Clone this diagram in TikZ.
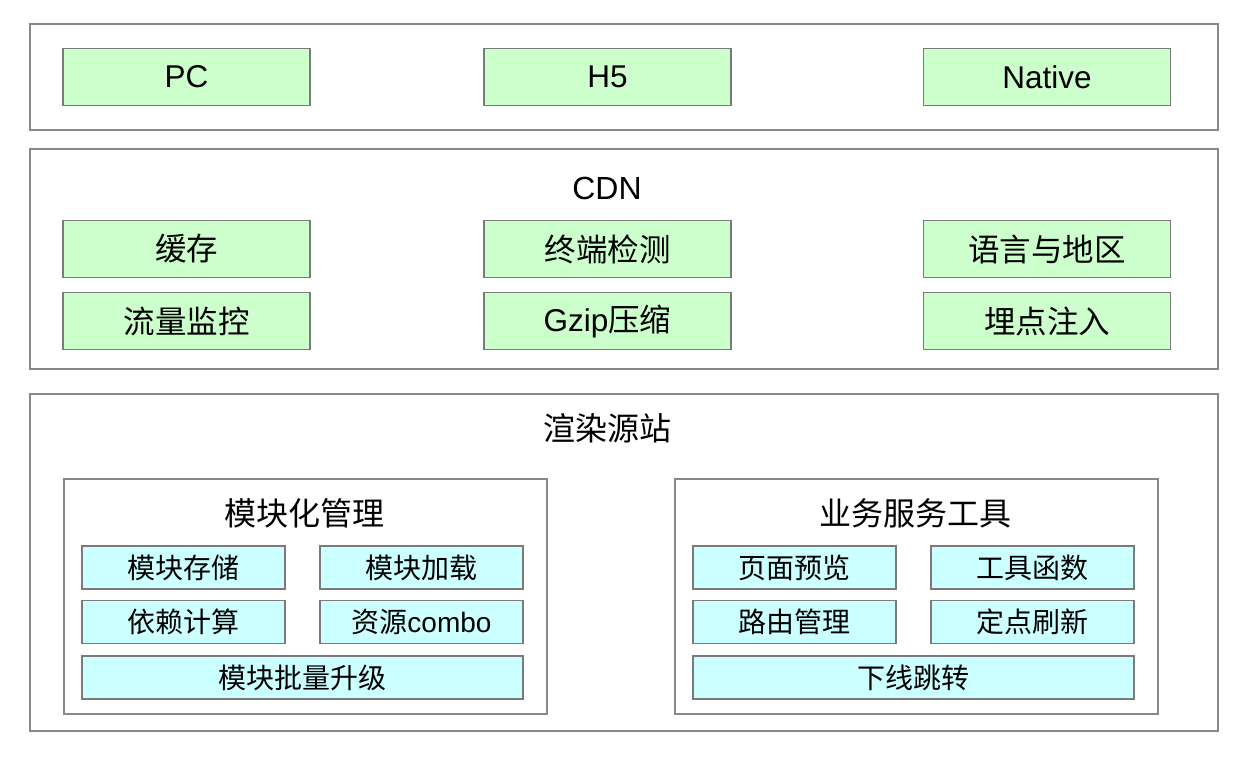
\documentclass[tikz,border=0pt]{standalone}
\usepackage{fontspec}
\setmainfont{Liberation Sans}
\newfontfamily\cjk{Noto Sans CJK SC}
\usepackage{xcolor}
\usetikzlibrary{positioning}

\definecolor{termgreen}{HTML}{CCFFCC}
\definecolor{cellcyan}{HTML}{CCFFFF}
\definecolor{edgegray}{HTML}{7A7A7A}
\definecolor{framegray}{HTML}{888888}

\begin{document}
\begin{tikzpicture}[x=1pt,y=-1pt,
		layer/.style={draw=framegray, line width=1.5pt, anchor=north west, inner sep=0pt},
		term/.style={draw=edgegray, fill=termgreen, line width=1.5pt, minimum width=247pt, minimum height=57pt, inner sep=0pt, font=\fontsize{31.5}{33}\selectfont},
		cell/.style={draw=edgegray, fill=cellcyan, line width=1.5pt, minimum width=203pt, minimum height=43pt, inner sep=0pt, font=\fontsize{28}{30}\selectfont},
		wide/.style={cell, minimum width=441pt},
		title/.style={font=\fontsize{32}{34}\selectfont}]
		\fill[white] (0,0) rectangle (1244,756);
		\useasboundingbox (0,0) rectangle (1244,756);
		% clients
		\node[layer, minimum width=1188pt, minimum height=106pt] (client) at (29,23) {};
		\node[term] (pc) at (186.5,77) {PC};
		\node[term] (h5) at (607.5,77) {H5};
		\node[term] (native) at (1047,77) {Native};
		% cdn
		\node[layer, minimum width=1188pt, minimum height=220pt] (cdn) at (29,148) {};
		\node[title] (cdnlabel) at (607,188) {CDN};
		\node[term] (cache) at (186.5,249) {\cjk 缓存};
		\node[term] (detect) at (607.5,249) {\cjk 终端检测};
		\node[term] (locale) at (1047,249) {\cjk 语言与地区};
		\node[term] (traffic) at (186.5,321) {\cjk 流量监控};
		\node[term] (gzip) at (607.5,321) {Gzip{\cjk 压缩}};
		\node[term] (track) at (1047,321) {\cjk 埋点注入};
		% origin
		\node[layer, minimum width=1188pt, minimum height=337pt] (origin) at (29,393) {};
		\node[title] (originlabel) at (607,428) {\cjk 渲染源站};
		\node[layer, minimum width=483pt, minimum height=235pt] (modules) at (63,478) {};
		\node[title] (moduleslabel) at (304.5,513) {\cjk 模块化管理};
		\node[cell] (store) at (183.5,567.5) {\cjk 模块存储};
		\node[cell] (load) at (421.5,567.5) {\cjk 模块加载};
		\node[cell] (deps) at (183.5,622) {\cjk 依赖计算};
		\node[cell] (combo) at (421.5,622) {{\cjk 资源}combo};
		\node[wide] (upgrade) at (302.5,677.5) {\cjk 模块批量升级};
		\node[layer, minimum width=483pt, minimum height=235pt] (tools) at (674,478) {};
		\node[title] (toolslabel) at (915.5,513) {\cjk 业务服务工具};
		\node[cell] (preview) at (794.5,567.5) {\cjk 页面预览};
		\node[cell] (funcs) at (1032.5,567.5) {\cjk 工具函数};
		\node[cell] (router) at (794.5,622) {\cjk 路由管理};
		\node[cell] (refresh) at (1032.5,622) {\cjk 定点刷新};
		\node[wide] (redirect) at (913.5,677.5) {\cjk 下线跳转};
	\end{tikzpicture}
\end{document}
